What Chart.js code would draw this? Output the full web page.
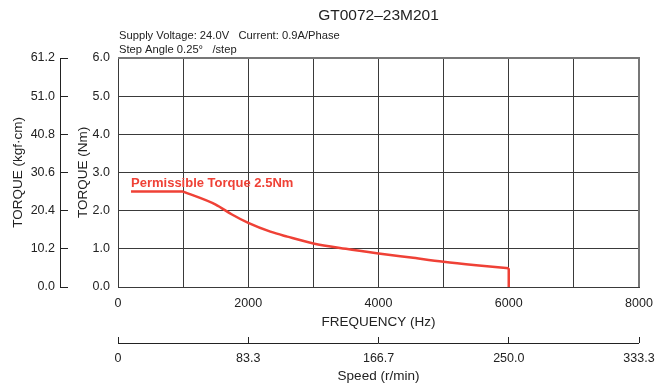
<!DOCTYPE html>
<html>
<head>
<meta charset="utf-8">
<style>
  html, body { margin: 0; padding: 0; background: #fff; }
  #wrap { width: 669px; height: 390px; }
</style>
</head>
<body>
<div id="wrap"><canvas id="torqueChart"></canvas></div>
<script src="https://cdn.jsdelivr.net/npm/chart.js"></script>
<script>
// Pull-out torque curve for GT0072-23M201
// flat part = permissible torque limit
const limitHz = [200, 1000];
const limitNm = [2.5, 2.5];
const freqHz = [1000, 1500, 1750, 2000, 2340, 2600, 3000, 3500, 4000, 4500, 5000, 5500, 6000];
const torqueNm = [2.5, 2.16, 1.90, 1.68, 1.45, 1.32, 1.14, 1.0, 0.88, 0.77, 0.66, 0.57, 0.49];
// vertical drop at the max frequency
const cutoffHz = [6000, 6000];
const cutoffNm = [0.49, 0.0];

const nmTicks = [0, 1, 2, 3, 4, 5, 6];
const kgfTicks = [0, 10.2, 20.4, 30.6, 40.8, 51.0, 61.2];
const freqLabelTicks = [0, 2000, 4000, 6000, 8000];
const speedTicks = [0, 83.3, 166.7, 250.0, 333.3];

const FONT = '"Liberation Sans", Arial, Helvetica, sans-serif';
const RED = '#ef4136';
const INK = '#222';
const GRID = '#3a3a3a';
const TICK_SIZE = 12.5;
const TITLE_SIZE = 13.5;

const toXY = (xs, ys) => xs.map((x, i) => ({ x: x, y: ys[i] }));

const redLine = (xs, ys, extra) => Object.assign({
  data: toXY(xs, ys),
  borderColor: RED,
  borderWidth: 2.5,
  pointRadius: 0,
  xAxisID: 'x',
  yAxisID: 'y'
}, extra || {});

// titles, outer axis lines, curve label, frame
const decorations = {
  id: 'decorations',
  afterDraw(chart) {
    const { ctx, chartArea: a, scales } = chart;
    ctx.save();
    ctx.fillStyle = INK;
    ctx.textBaseline = 'middle';
    ctx.textAlign = 'center';
    ctx.font = '15.5px ' + FONT;
    ctx.fillText('GT0072\u201323M201', (a.left + a.right) / 2, 16);

    ctx.textAlign = 'left';
    ctx.font = '11.2px ' + FONT;
    ctx.fillText('Supply Voltage: 24.0V   Current: 0.9A/Phase', a.left + 1, 36);
    ctx.fillText('Step Angle 0.25\u00b0   /step', a.left + 1, 50);

    ctx.strokeStyle = INK;
    ctx.lineWidth = 1;
    const k = scales.yKgf;
    const kx = Math.round(k.right - k.options.grid.tickLength) + 0.5;
    ctx.beginPath();
    ctx.moveTo(kx, k.getPixelForValue(kgfTicks[0]));
    ctx.lineTo(kx, k.getPixelForValue(kgfTicks[kgfTicks.length - 1]));
    ctx.stroke();

    const s = scales.xSpeed;
    const sy = Math.round(s.top + s.options.grid.tickLength) + 0.5;
    ctx.beginPath();
    ctx.moveTo(s.getPixelForValue(speedTicks[0]), sy);
    ctx.lineTo(s.getPixelForValue(speedTicks[speedTicks.length - 1]), sy);
    ctx.stroke();

    ctx.strokeStyle = '#777';
    ctx.lineWidth = 2;
    ctx.beginPath();
    ctx.moveTo(a.left, a.top);
    ctx.lineTo(a.right, a.top);
    ctx.lineTo(a.right, a.bottom);
    ctx.stroke();

    ctx.fillStyle = RED;
    ctx.font = 'bold 13px ' + FONT;
    ctx.textBaseline = 'bottom';
    ctx.fillText('Permissible Torque 2.5Nm',
      scales.x.getPixelForValue(limitHz[0]),
      scales.y.getPixelForValue(limitNm[0]) - 2);
    ctx.restore();
  }
};

const ctx = document.getElementById('torqueChart').getContext('2d');
new Chart(ctx, {
  type: 'line',
  data: {
    datasets: [
      redLine(limitHz, limitNm),
      redLine(freqHz, torqueNm, { cubicInterpolationMode: 'monotone' }),
      redLine(cutoffHz, cutoffNm)
    ]
  },
  options: {
    responsive: true,
    maintainAspectRatio: false,
    animation: false,
    layout: { padding: { top: 58, right: 30, left: 0, bottom: 0 } },
    plugins: { legend: { display: false }, tooltip: { enabled: false } },
    scales: {
      x: {
        type: 'linear',
        position: 'bottom',
        weight: 0,
        min: 0,
        max: 8000,
        afterFit: (sc) => { sc.height = 50; },
        ticks: {
          stepSize: 1000,
          autoSkip: false,
          maxRotation: 0,
          padding: 9,
          color: INK,
          font: { family: FONT, size: TICK_SIZE },
          callback: (v) => freqLabelTicks.includes(v) ? String(v) : ''
        },
        grid: { color: GRID, drawTicks: false },
        border: { color: GRID },
        title: {
          display: true, text: 'FREQUENCY (Hz)', color: INK,
          font: { family: FONT, size: TITLE_SIZE }, padding: { top: 0, bottom: 7 }
        }
      },
      xSpeed: {
        type: 'linear',
        position: 'bottom',
        weight: 1,
        min: speedTicks[0],
        max: speedTicks[speedTicks.length - 1],
        afterFit: (sc) => { sc.height = 53; },
        afterBuildTicks: (sc) => { sc.ticks = speedTicks.map(v => ({ value: v })); },
        ticks: {
          autoSkip: false,
          maxRotation: 0,
          padding: 8,
          color: INK,
          font: { family: FONT, size: TICK_SIZE },
          callback: (v) => v === 0 ? '0' : v.toFixed(1)
        },
        grid: { drawOnChartArea: false, tickLength: 6, color: INK },
        border: { display: false },
        title: {
          display: true, text: 'Speed (r/min)', color: INK,
          font: { family: FONT, size: TITLE_SIZE }, padding: { top: 0, bottom: 6 }
        }
      },
      y: {
        type: 'linear',
        position: 'left',
        weight: 0,
        min: 0,
        max: 6,
        afterFit: (sc) => { sc.width = 50; },
        afterBuildTicks: (sc) => { sc.ticks = nmTicks.map(v => ({ value: v })); },
        ticks: {
          padding: 8,
          color: INK,
          font: { family: FONT, size: TICK_SIZE },
          callback: (v) => v.toFixed(1)
        },
        grid: { color: GRID, drawTicks: false },
        border: { color: GRID },
        title: {
          display: true, text: 'TORQUE (Nm)', color: INK,
          font: { family: FONT, size: TITLE_SIZE }, padding: { top: 7, bottom: 0 }
        }
      },
      yKgf: {
        type: 'linear',
        position: 'left',
        weight: 1,
        min: kgfTicks[0],
        max: kgfTicks[kgfTicks.length - 1],
        afterFit: (sc) => { sc.width = 68; },
        afterBuildTicks: (sc) => { sc.ticks = kgfTicks.map(v => ({ value: v })); },
        ticks: {
          padding: 5,
          color: INK,
          font: { family: FONT, size: TICK_SIZE },
          callback: (v) => v.toFixed(1)
        },
        grid: { drawOnChartArea: false, tickLength: 8, color: INK },
        border: { display: false },
        title: {
          display: true, text: 'TORQUE (kgf\u00b7cm)', color: INK,
          font: { family: FONT, size: TITLE_SIZE }, padding: { top: 10, bottom: 0 }
        }
      }
    }
  },
  plugins: [decorations]
});
</script>
</body>
</html>
